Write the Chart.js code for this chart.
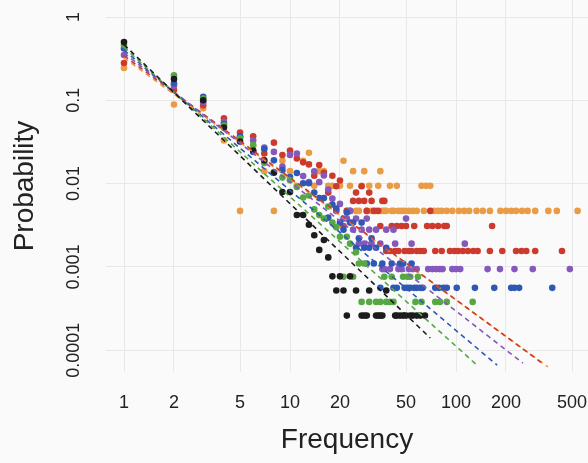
<!DOCTYPE html>
<html>
<head>
<meta charset="utf-8">
<script src="https://cdn.jsdelivr.net/npm/chart.js@4/dist/chart.umd.min.js"></script>
<style>
  html, body { margin: 0; padding: 0; background: #fafafa; }
  canvas { display: block; }
</style>
</head>
<body>
<canvas id="chart" width="588" height="463"></canvas>
<script>
// Axis ticks
const xTickValues = [1, 2, 5, 10, 20, 50, 100, 200, 500];
const xTickLabels = ['1', '2', '5', '10', '20', '50', '100', '200', '500'];
const yTickValues = [1, 0.1, 0.01, 0.001, 0.0001];
const yTickLabels = ['1', '0.1', '0.01', '0.001', '0.0001'];

// Frequency distributions, one per corpus
const blackFreq = [1,2,3,4,5,6,7,8,9,10,11,12,13,14,15,16,17,18,19,20,21,22,23,25,27,28,29,30,33,34,35,36,38,43,44,46,48,50,53,55,58,61,65];
const blackProb = [0.50,0.18,0.10,0.047,0.032,0.025,0.019,0.0135,0.0079,0.0079,0.0042,0.0042,0.0032,0.0024,0.0016,0.0021,0.0013,0.00077,0.00052,0.00077,0.00052,0.00026,0.00077,0.00052,0.00026,0.00026,0.00026,0.00052,0.00026,0.00026,0.00026,0.00026,0.00052,0.00026,0.00026,0.00026,0.00026,0.00026,0.00026,0.00026,0.00026,0.00026,0.00026];

const greenFreq = [1,2,3,4,5,6,7,8,9,10,11,12,13,14,15,16,17,18,19,20,21,22,23,24,25,26,27,28,30,33,35,37,38,40,41,42,48,51,53,57,59,62,75,80,88,126];
const greenProb = [0.46,0.20,0.105,0.050,0.035,0.029,0.0177,0.0138,0.0118,0.011,0.0091,0.0068,0.0072,0.0049,0.0042,0.0038,0.0053,0.0034,0.0030,0.0023,0.00076,0.0023,0.0019,0.00076,0.0015,0.0011,0.00038,0.0011,0.00038,0.00038,0.00038,0.00076,0.00038,0.00038,0.00076,0.00038,0.00076,0.00076,0.00076,0.00038,0.00076,0.00038,0.00038,0.00038,0.00038,0.00038];

const blueFreq = [1,2,3,4,5,6,7,8,9,10,11,12,13,14,15,16,17,18,19,20,21,22,23,24,25,26,27,28,29,30,31,32,33,35,36,38,41,42,44,46,48,49,51,53,54,56,58,61,63,75,79,84,88,101,130,170,215,225,240,380];
const blueProb = [0.42,0.16,0.11,0.052,0.037,0.024,0.026,0.019,0.0145,0.012,0.0134,0.0101,0.0101,0.0078,0.0067,0.0067,0.0039,0.0056,0.0050,0.0034,0.0028,0.0045,0.0034,0.0034,0.0017,0.0022,0.0034,0.0017,0.0011,0.0017,0.0022,0.0011,0.0017,0.00056,0.0011,0.0017,0.0011,0.00056,0.00056,0.0011,0.0011,0.00056,0.00056,0.00056,0.0011,0.00056,0.00056,0.00056,0.00056,0.00056,0.00056,0.00056,0.00056,0.00056,0.00056,0.00056,0.00056,0.00056,0.00056,0.00056];

const purpleFreq = [1,2,3,4,5,6,7,8,9,10,11,12,13,14,15,16,17,18,19,20,21,22,23,24,25,26,27,28,29,30,31,33,35,36,37,38,40,42,43,45,47,50,52,54,55,58,68,72,76,80,83,95,100,106,113,155,184,225,290,485];
const purpleProb = [0.35,0.15,0.095,0.055,0.036,0.033,0.027,0.024,0.016,0.022,0.023,0.0123,0.0104,0.0140,0.0104,0.0125,0.0085,0.0066,0.0047,0.0057,0.0038,0.0038,0.0047,0.0028,0.0038,0.0019,0.0028,0.0019,0.0038,0.0028,0.0019,0.0028,0.0019,0.00094,0.00094,0.0028,0.00094,0.0028,0.0019,0.00094,0.00094,0.0038,0.00094,0.0019,0.00094,0.00094,0.00094,0.00094,0.00094,0.00094,0.00094,0.00094,0.00094,0.00094,0.0019,0.00094,0.00094,0.00094,0.00094,0.00094];

const redFreq = [1,2,3,4,5,6,7,8,9,10,11,12,13,14,15,16,17,18,19,20,21,22,23,24,25,26,27,28,29,30,31,32,34,35,36,37,38,40,41,43,44,45,47,49,50,52,54,56,58,61,64,67,70,72,75,78,82,85,88,92,98,103,110,118,127,135,160,165,190,230,248,265,300,435];
const redProb = [0.28,0.133,0.087,0.061,0.041,0.037,0.023,0.031,0.022,0.025,0.020,0.018,0.017,0.0124,0.0167,0.0135,0.0078,0.0124,0.0093,0.0109,0.0031,0.0047,0.0047,0.0062,0.0078,0.0062,0.0093,0.0062,0.0047,0.0078,0.0062,0.0047,0.0047,0.0031,0.0062,0.0062,0.00155,0.00155,0.0031,0.00155,0.0031,0.00155,0.0031,0.00155,0.0031,0.00155,0.00155,0.0031,0.00155,0.00155,0.00155,0.0031,0.0047,0.0031,0.00155,0.0031,0.00155,0.0031,0.0031,0.00155,0.00155,0.00155,0.00155,0.00155,0.00155,0.00155,0.00155,0.0031,0.00155,0.00155,0.00155,0.00155,0.00155,0.00155];

const orangeFreq = [1,2,3,4,5,6,7,8,9,10,11,12,13,14,15,16,17,18,19,20,21,22,23,24,25,26,27,28,29,30,31,33,34,35,36,37,38,40,41,42,44,45,47,49,52,55,58,62,64,66,70,74,78,82,88,95,104,112,120,133,145,160,185,200,215,230,250,270,300,360,405,540];
const orangeProb = [0.244,0.089,0.080,0.033,0.0047,0.028,0.0141,0.0047,0.0188,0.0141,0.0094,0.0188,0.0235,0.0094,0.0141,0.0141,0.0094,0.0094,0.0047,0.0094,0.0188,0.0047,0.0094,0.0141,0.0047,0.0047,0.0094,0.0141,0.0047,0.0094,0.0047,0.0047,0.0094,0.0141,0.0047,0.0047,0.0047,0.0094,0.0047,0.0047,0.0094,0.0047,0.0047,0.0047,0.0047,0.0047,0.0047,0.0094,0.0047,0.0094,0.0094,0.0047,0.0047,0.0047,0.0047,0.0047,0.0047,0.0047,0.0047,0.0047,0.0047,0.0047,0.0047,0.0047,0.0047,0.0047,0.0047,0.0047,0.0047,0.0047,0.0047,0.0047];

// Power-law fits: [start, end] of each fitted line
const blackFitFreq = [1, 70];      const blackFitProb = [0.466, 0.00014];
const greenFitFreq = [1, 134];     const greenFitProb = [0.432, 0.000066];
const blueFitFreq = [1, 177];      const blueFitProb = [0.40, 0.000066];
const purpleFitFreq = [1, 253];    const purpleFitProb = [0.369, 0.000070];
const redFitFreq = [1, 330];       const redFitProb = [0.343, 0.000070];
const orangeFitFreq = [1, 358];    const orangeFitProb = [0.324, 0.000063];

const colors = {
  black: '#1c1c1c',
  green: '#55a842',
  blue: '#2f58b4',
  purple: '#8458bd',
  red: '#cc3a2e',
  orange: '#e99c45'
};

const toPoints = (xs, ys) => xs.map((x, i) => ({ x: x, y: ys[i] }));

const series = [
  ['black', blackFreq, blackProb, blackFitFreq, blackFitProb],
  ['green', greenFreq, greenProb, greenFitFreq, greenFitProb],
  ['blue', blueFreq, blueProb, blueFitFreq, blueFitProb],
  ['purple', purpleFreq, purpleProb, purpleFitFreq, purpleFitProb],
  ['red', redFreq, redProb, redFitFreq, redFitProb],
  ['orange', orangeFreq, orangeProb, orangeFitFreq, orangeFitProb]
];

// fitted lines first so they sit above the dots
const fitSets = series.map(([name, , , fx, fy]) => ({
  type: 'line',
  data: toPoints(fx, fy),
  borderColor: colors[name],
  borderWidth: 1.6,
  borderDash: [5, 4],
  pointRadius: 0,
  fill: false,
  tension: 0
}));
const dotSets = series.map(([name, fx, fy]) => ({
  type: 'scatter',
  data: toPoints(fx, fy),
  backgroundColor: colors[name],
  borderWidth: 0,
  pointRadius: 3.3
}));

const tickFont = { family: '"Liberation Sans", Arial, Helvetica, sans-serif', size: 18 };
const titleFont = { family: '"Liberation Sans", Arial, Helvetica, sans-serif', size: 28 };

// fixed axis boxes, no extra room reserved for overhanging tick labels
const fixBox = (size) => (s) => {
  if (s.isHorizontal()) { s.height = size; } else { s.width = size; }
  s.paddingTop = 0; s.paddingBottom = 0; s.paddingLeft = 0; s.paddingRight = 0;
};

new Chart(document.getElementById('chart'), {
  type: 'scatter',
  data: { datasets: fitSets.concat(dotSets) },
  options: {
    responsive: false,
    animation: false,
    devicePixelRatio: 1,
    layout: { padding: 0, autoPadding: false },
    plugins: { legend: { display: false }, tooltip: { enabled: false } },
    scales: {
      x: {
        type: 'logarithmic',
        min: 0.779,
        max: 624,
        bounds: 'data',
        afterBuildTicks: s => { s.ticks = xTickValues.map(v => ({ value: v })); },
        afterFit: fixBox(91),
        border: { display: false },
        grid: { color: '#e8e8e8', lineWidth: 1, drawTicks: false },
        ticks: {
          autoSkip: false, minRotation: 0, maxRotation: 0, padding: 20,
          color: '#222', font: tickFont,
          callback: v => xTickLabels[xTickValues.indexOf(v)]
        },
        title: { display: true, text: 'Frequency', color: '#222', font: titleFont, padding: { top: 0, bottom: 6 } }
      },
      y: {
        type: 'logarithmic',
        min: 5.47e-5,
        max: 1.6,
        bounds: 'data',
        afterBuildTicks: s => { s.ticks = yTickValues.map(v => ({ value: v })); },
        afterFit: fixBox(106),
        border: { display: false },
        grid: { color: '#e8e8e8', lineWidth: 1, drawTicks: false },
        ticks: {
          autoSkip: false, minRotation: 90, maxRotation: 90, padding: 4,
          crossAlign: 'center',
          color: '#222', font: tickFont,
          callback: v => yTickLabels[yTickValues.indexOf(v)]
        },
        title: { display: true, text: 'Probability', color: '#222', font: titleFont, padding: { top: 8, bottom: 0 } }
      }
    }
  }
});
</script>
</body>
</html>
